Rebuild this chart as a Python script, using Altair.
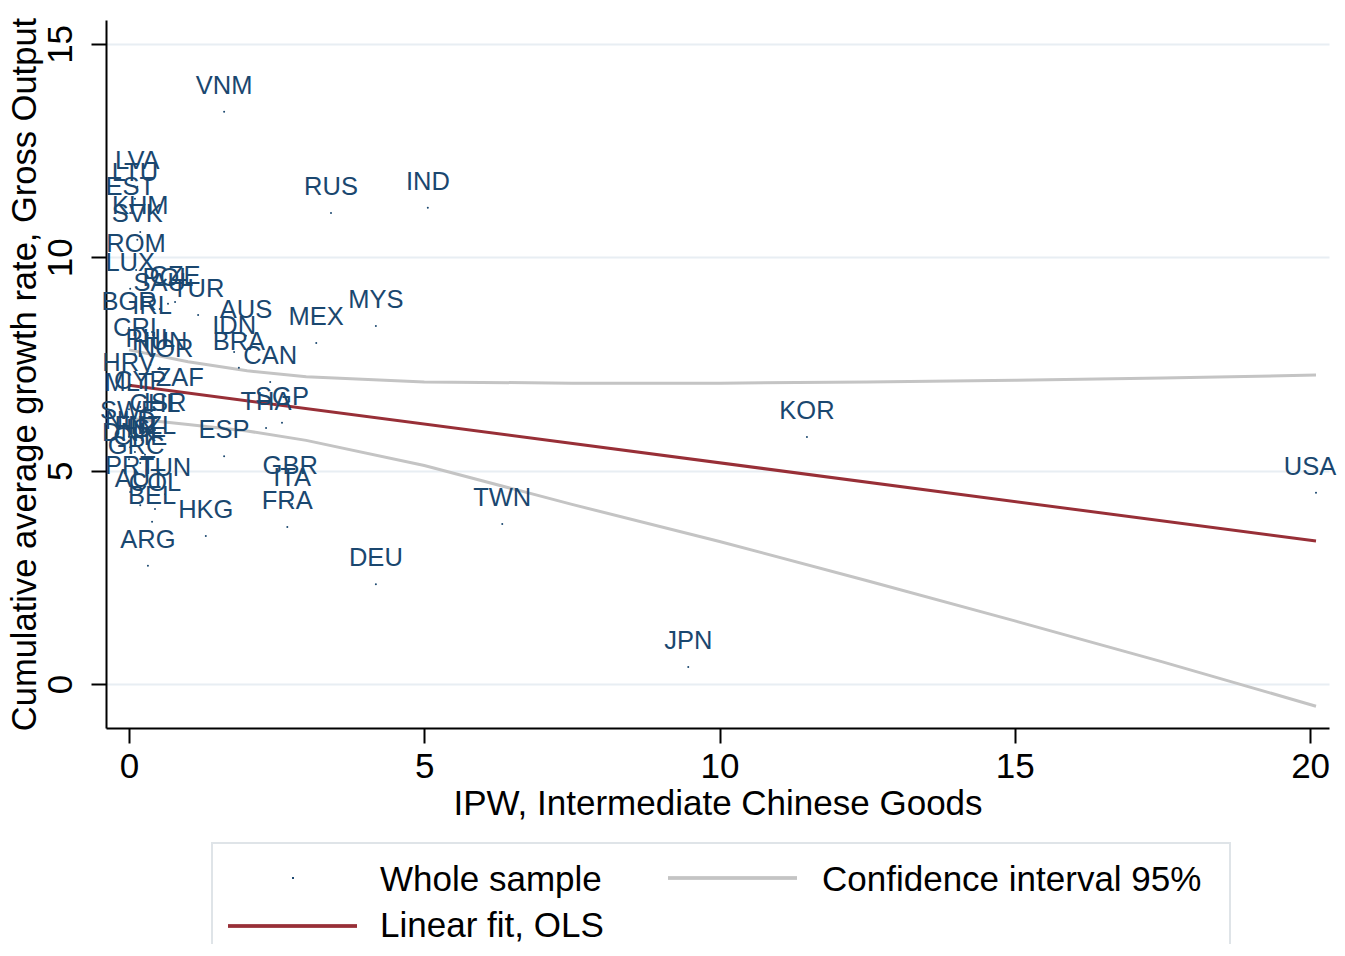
import altair as alt
import pandas as pd

countries = ["VNM", "LVA", "LTU", "EST", "KHM", "SVK", "ROM", "LUX", "SAU", "POL", "CZE", "TUR",
             "BGR", "IRL", "AUS", "IDN", "MEX", "MYS", "CRI", "PHL", "HUN", "NOR", "BRA", "CAN",
             "HRV", "MLT", "CYP", "ZAF", "THA", "SGP", "CHL", "ISR", "SWE", "ESP", "NLD", "FIN",
             "DNK", "ISL", "CHE", "NZL", "GRC", "PRT", "TUN", "COL", "AUT", "BEL", "HKG", "ARG",
             "GBR", "ITA", "FRA", "DEU", "TWN", "JPN", "KOR", "USA", "RUS", "IND"]
ipw = [1.61, 0.14, 0.10, 0.02, 0.19, 0.14, 0.12, 0.02, 0.52, 0.66, 0.78, 1.17,
       0.00, 0.39, 1.98, 1.78, 3.17, 4.18, 0.10, 0.36, 0.52, 0.61, 1.86, 2.39,
       0.00, 0.00, 0.19, 0.86, 2.32, 2.59, 0.44, 0.61, 0.00, 1.61, 0.02, 0.10,
       0.00, 0.27, 0.19, 0.39, 0.12, 0.02, 0.61, 0.44, 0.19, 0.39, 1.30, 0.32,
       2.73, 2.76, 2.68, 4.18, 6.32, 9.47, 11.48, 20.10, 3.42, 5.06]
growth = [13.41, 11.65, 11.37, 11.04, 10.59, 10.41, 9.70, 9.26, 8.79, 8.91, 8.95, 8.65,
          8.34, 8.25, 8.16, 7.78, 7.99, 8.39, 7.73, 7.48, 7.41, 7.24, 7.41, 7.08,
          6.91, 6.44, 6.49, 6.56, 6.00, 6.12, 5.95, 5.98, 5.79, 5.34, 5.55, 5.44,
          5.27, 5.37, 5.18, 5.44, 4.97, 4.50, 4.45, 4.10, 4.19, 3.80, 3.47, 2.77,
          4.50, 4.22, 3.68, 2.34, 3.75, 0.40, 5.79, 4.48, 11.04, 11.16]

fit_x = [0.0, 20.1]
fit_y = [7.00, 3.35]

ci_x = [0.0, 1.0, 2.0, 3.0, 5.0, 7.5, 10.0, 12.5, 15.0, 17.5, 20.1]
ci_upper = [7.83, 7.55, 7.34, 7.20, 7.08, 7.05, 7.05, 7.08, 7.12, 7.17, 7.24]
ci_lower = [6.23, 6.08, 5.93, 5.71, 5.12, 4.21, 3.34, 2.42, 1.48, 0.52, -0.52]

legend_labels = ["Whole sample", "Confidence interval 95%", "Linear fit, OLS"]

FONT = "Liberation Sans"
NAVY = "#1a476f"
RED = "#982f37"
GREY = "#c4c4c4"

pts = pd.DataFrame({"country": countries, "ipw": ipw, "growth": growth})
fit = pd.DataFrame({"ipw": fit_x, "growth": fit_y})
ci = pd.DataFrame({"ipw": ci_x + ci_x,
                   "growth": ci_upper + ci_lower,
                   "band": ["upper"] * len(ci_x) + ["lower"] * len(ci_x)})

xscale = alt.Scale(domain=[-0.39, 20.32], nice=False, zero=False)
yscale = alt.Scale(domain=[-1.03, 15.56], nice=False, zero=False)

xenc = alt.X("ipw:Q", scale=xscale,
             axis=alt.Axis(title="IPW, Intermediate Chinese Goods", values=[0, 5, 10, 15, 20],
                           grid=False, format="d"))
yenc = alt.Y("growth:Q", scale=yscale,
             axis=alt.Axis(title="Cumulative average growth rate, Gross Output",
                           values=[0, 5, 10, 15], grid=True, format="d", titleFontSize=34.5,
                           labelAngle=-90, labelAlign="center", labelBaseline="alphabetic"))

ci_lines = alt.Chart(ci).mark_line(color=GREY, strokeWidth=3).encode(
    x=xenc, y=yenc, detail="band:N")
fit_line = alt.Chart(fit).mark_line(color=RED, strokeWidth=3).encode(x=xenc, y=yenc)
dots = alt.Chart(pts).mark_circle(color=NAVY, size=4, opacity=1).encode(x=xenc, y=yenc)
labels = alt.Chart(pts).transform_filter(alt.datum.ipw < 19).mark_text(
    font=FONT, fontSize=25.5, color=NAVY, align="center", baseline="alphabetic", dy=-18
).encode(x=xenc, y=yenc, text="country:N")
# the right-most label is nudged inward so that it stays inside the page
labels_edge = alt.Chart(pts).transform_filter(alt.datum.ipw >= 19).mark_text(
    font=FONT, fontSize=25.5, color=NAVY, align="center", baseline="alphabetic", dy=-18, dx=-6
).encode(x=xenc, y=yenc, text="country:N")

leg = pd.DataFrame({"label": legend_labels})
leg_box = alt.Chart(leg).mark_rect(fill="white", stroke="#dfe4e8", strokeWidth=2).encode(
    x=alt.value(106), x2=alt.value(1124), y=alt.value(823), y2=alt.value(960))
leg_dot = alt.Chart(leg).mark_circle(color=NAVY, size=4, opacity=1).encode(
    x=alt.value(187), y=alt.value(858))
leg_grey = alt.Chart(leg).mark_rule(color=GREY, strokeWidth=3).encode(
    x=alt.value(562), x2=alt.value(691), y=alt.value(858))
leg_red = alt.Chart(leg).mark_rule(color=RED, strokeWidth=3).encode(
    x=alt.value(122), x2=alt.value(251), y=alt.value(906))
leg_t1 = alt.Chart(leg).transform_filter(alt.datum.label == legend_labels[0]).mark_text(
    font=FONT, fontSize=35, color="black", align="left", baseline="middle").encode(
    x=alt.value(274), y=alt.value(860), text="label:N")
leg_t2 = alt.Chart(leg).transform_filter(alt.datum.label == legend_labels[1]).mark_text(
    font=FONT, fontSize=35, color="black", align="left", baseline="middle").encode(
    x=alt.value(716), y=alt.value(860), text="label:N")
leg_t3 = alt.Chart(leg).transform_filter(alt.datum.label == legend_labels[2]).mark_text(
    font=FONT, fontSize=35, color="black", align="left", baseline="middle").encode(
    x=alt.value(274), y=alt.value(906), text="label:N")

chart = alt.layer(
    ci_lines, fit_line, dots, labels, labels_edge,
    leg_box, leg_dot, leg_grey, leg_red, leg_t1, leg_t2, leg_t3
).properties(
    width=1223, height=708,
    padding={"left": 98, "top": 12, "right": 8, "bottom": 216},
    autosize=alt.AutoSizeParams(type="none"),
    background="white",
).configure_view(stroke=None).configure_axis(
    labelFont=FONT, titleFont=FONT, labelFontSize=35, titleFontSize=35,
    labelColor="black", titleColor="black", titleFontWeight="normal",
    domainColor="black", domainWidth=2, tickColor="black", tickWidth=2, tickSize=15,
    gridColor="#e8eef3", gridWidth=2,
).configure_axisX(labelPadding=6, titlePadding=2).configure_axisY(
    labelPadding=20, titlePadding=1)

chart.save("out.html", embed_options={"renderer": "svg", "actions": False})
